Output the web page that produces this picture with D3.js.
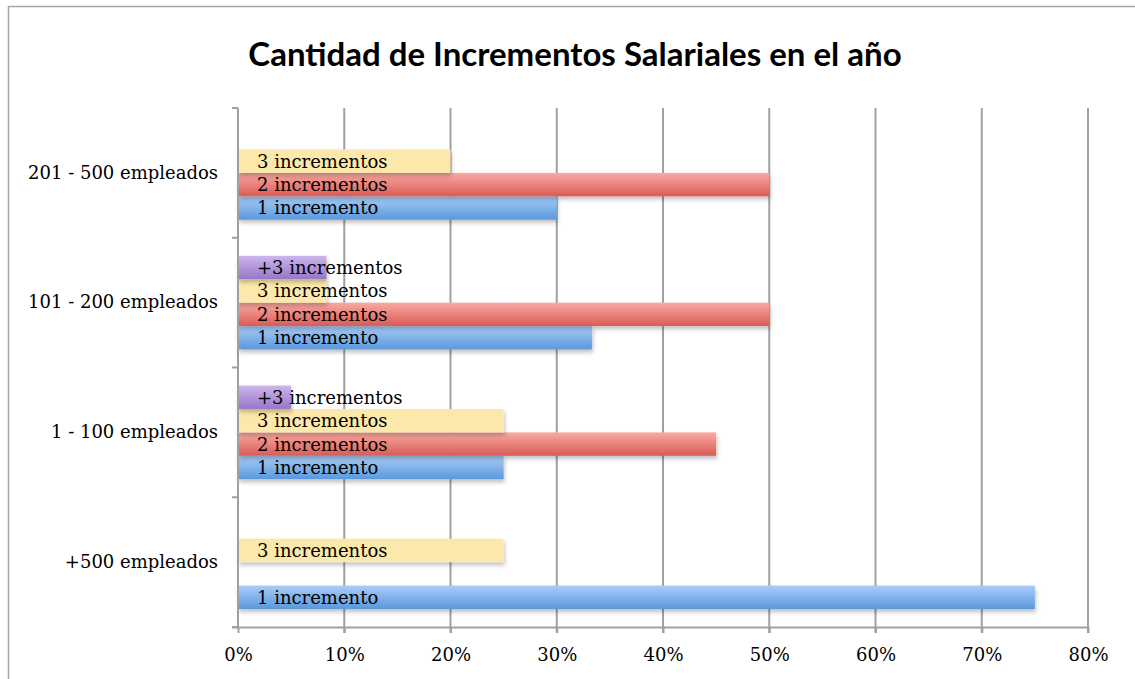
<!DOCTYPE html>
<html>
<head>
<meta charset="utf-8">
<script src="https://cdn.jsdelivr.net/npm/d3@7"></script>
<style>
  body { margin: 0; background: #fff; }
  svg { display: block; }
</style>
</head>
<body>
<div id="chart"></div>
<script>
// categories top to bottom
const categories = ['201 - 500 empleados', '101 - 200 empleados', '1 - 100 empleados', '+500 empleados'];
// series drawn bottom to top inside each group
const series = ['1 incremento', '2 incrementos', '3 incrementos', '+3 incrementos'];
const uno = [0.30, 0.3333, 0.25, 0.75];
const dos = [0.50, 0.50, 0.45, 0];
const tres = [0.20, 0.0833, 0.25, 0.25];
const masTres = [0, 0.0833, 0.05, 0];
const xTicks = [0, 0.1, 0.2, 0.3, 0.4, 0.5, 0.6, 0.7, 0.8];
const title = 'Cantidad de Incrementos Salariales en el año';

const seriesValues = [uno, dos, tres, masTres];
const colors = [
    ['#a9cdf8', '#5a98dc'],
    ['#f9aaa3', '#da5b55'],
    ['#fde8ab', '#fde8ab'],
    ['#cdb5ec', '#9677c6']
];

const width = 1135;
const height = 679;
const margin = { top: 108, right: 47, bottom: 52, left: 238 };
const serif = '"DejaVu Serif", "Liberation Serif", serif';
const fontSize = '18px';

const svg = d3.select('#chart').append('svg')
    .attr('width', width)
    .attr('height', height);

const defs = svg.append('defs');
colors.forEach((c, i) => {
    const g = defs.append('linearGradient')
        .attr('id', `grad${i}`)
        .attr('x1', 0).attr('y1', 0).attr('x2', 0).attr('y2', 1);
    g.append('stop').attr('offset', '0%').attr('stop-color', c[0]);
    g.append('stop').attr('offset', '100%').attr('stop-color', c[1]);
});
defs.append('filter')
    .attr('id', 'shadow')
    .attr('x', '-5%').attr('y', '-30%').attr('width', '110%').attr('height', '180%')
    .append('feDropShadow')
    .attr('dx', 1).attr('dy', 3)
    .attr('stdDeviation', 2)
    .attr('flood-color', '#000')
    .attr('flood-opacity', 0.25);

// outer frame
svg.append('rect')
    .attr('x', 8.5).attr('y', 6.5)
    .attr('width', width + 10).attr('height', height + 10)
    .attr('fill', 'none')
    .attr('stroke', '#a6a6a6')
    .attr('stroke-width', 1.5);

svg.append('text')
    .attr('x', 575)
    .attr('y', 66)
    .attr('text-anchor', 'middle')
    .style('font-family', 'Lato, "Open Sans", sans-serif')
    .style('font-weight', 'bold')
    .style('font-size', '33px')
    .attr('fill', '#000')
    .text(title);

const x = d3.scaleLinear()
    .domain([0, 0.8])
    .range([margin.left, width - margin.right]);

const y = d3.scaleBand()
    .domain(categories)
    .range([margin.top, height - margin.bottom]);

const yInner = d3.scaleBand()
    .domain(series.slice().reverse())
    .range([0, y.bandwidth()])
    .paddingOuter(0.77);

const plotBottom = height - margin.bottom;

// vertical gridlines
svg.append('g')
    .selectAll('line')
    .data(xTicks.slice(1))
    .join('line')
    .attr('x1', d => x(d)).attr('x2', d => x(d))
    .attr('y1', margin.top).attr('y2', plotBottom + 6)
    .attr('stroke', '#a0a0a0')
    .attr('stroke-width', 2);

// bars
const rows = [];
categories.forEach((cat, ci) => {
    series.forEach((s, si) => {
        rows.push({ cat, s, si, v: seriesValues[si][ci] });
    });
});
const barData = rows.filter(d => d.v > 0);

svg.append('g')
    .selectAll('rect')
    .data(barData)
    .join('rect')
    .attr('x', x(0))
    .attr('y', d => y(d.cat) + yInner(d.s))
    .attr('width', d => x(d.v) - x(0))
    .attr('height', yInner.bandwidth())
    .attr('fill', d => `url(#grad${d.si})`)
    .attr('filter', 'url(#shadow)');

svg.append('g')
    .selectAll('text')
    .data(barData)
    .join('text')
    .attr('x', x(0) + 19)
    .attr('y', d => y(d.cat) + yInner(d.s) + yInner.bandwidth() / 2)
    .attr('dy', '0.36em')
    .style('font-family', serif)
    .style('font-size', fontSize)
    .attr('fill', '#000')
    .text(d => d.s);

// axes
const xAxis = svg.append('g')
    .attr('transform', `translate(0,${plotBottom})`)
    .call(d3.axisBottom(x).tickValues(xTicks).tickFormat(d3.format('.0%')).tickSize(6).tickPadding(15));
xAxis.select('.domain')
    .attr('d', `M${x(0) - 6},0.5H${x(0.8)}`)
    .attr('stroke', '#a0a0a0').attr('stroke-width', 2);
xAxis.selectAll('.tick line').attr('stroke', '#a0a0a0').attr('stroke-width', 2);
xAxis.selectAll('.tick text')
    .style('font-family', serif)
    .style('font-size', fontSize)
    .attr('fill', '#000');

const yAxis = svg.append('g')
    .attr('transform', `translate(${x(0)},0)`)
    .call(d3.axisLeft(y).tickSize(0).tickPadding(20));
yAxis.select('.domain')
    .attr('d', `M0,${margin.top}V${plotBottom}`)
    .attr('stroke', '#a0a0a0').attr('stroke-width', 2);
yAxis.selectAll('.tick text')
    .style('font-family', serif)
    .style('font-size', fontSize)
    .attr('fill', '#000');

// category boundary ticks
const bounds = categories.map(c => y(c)).concat([plotBottom]);
yAxis.append('g')
    .selectAll('line')
    .data(bounds)
    .join('line')
    .attr('x1', -6).attr('x2', 0)
    .attr('y1', d => d).attr('y2', d => d)
    .attr('stroke', '#a0a0a0')
    .attr('stroke-width', 2);
</script>
</body>
</html>
